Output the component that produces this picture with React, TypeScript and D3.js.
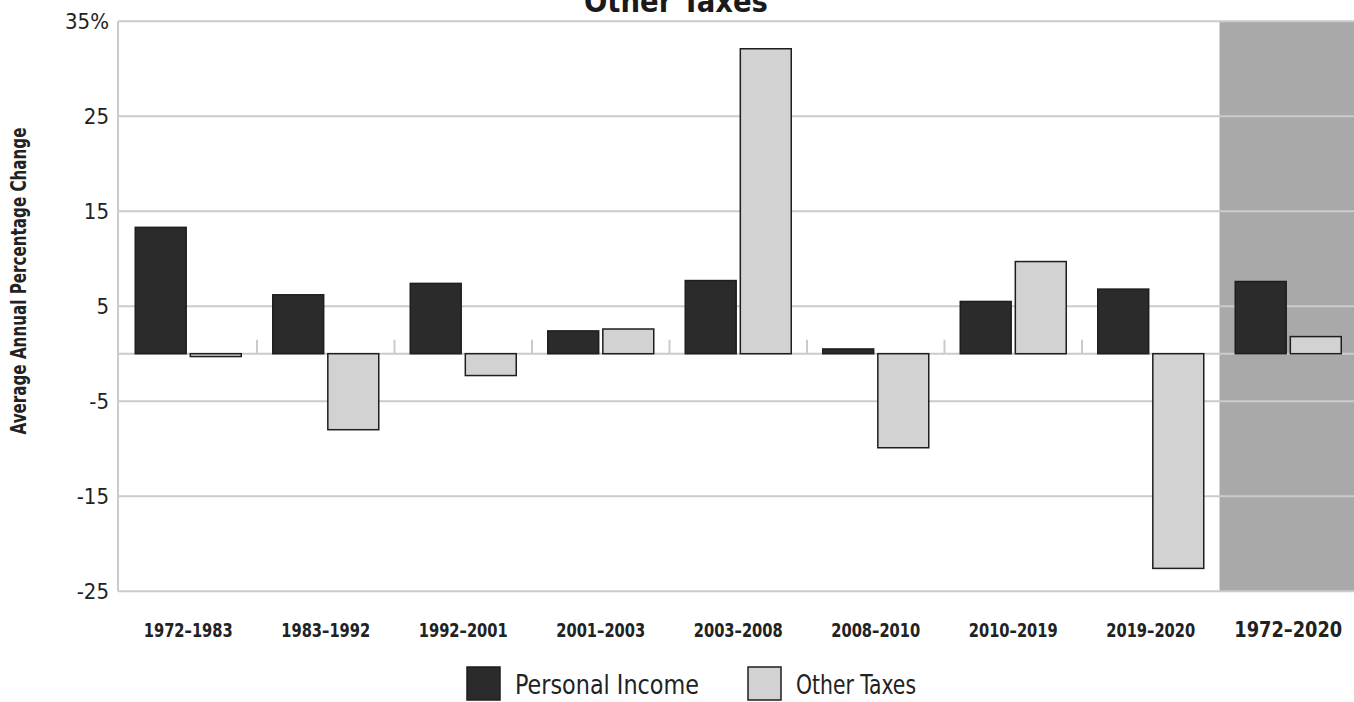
import React from "react";
import * as d3 from "d3";

const categories = ["1972–1983", "1983–1992", "1992–2001", "2001–2003", "2003–2008", "2008–2010", "2010–2019", "2019–2020", "1972–2020"];
const personalIncome = [13.3, 6.2, 7.4, 2.4, 7.7, 0.5, 5.5, 6.8, 7.6];
const otherTaxes = [-0.3, -8.0, -2.3, 2.6, 32.1, -9.9, 9.7, -22.6, 1.8];
const seriesNames = ["Personal Income", "Other Taxes"];
const yTicks = [35, 25, 15, 5, -5, -15, -25];
const yTickLabels = ["35%", "25", "15", "5", "-5", "-15", "-25"];
const title = "Other Taxes";
const yTitle = "Average Annual Percentage Change";

const W = 1354;
const H = 702;
const FONT = "'DejaVu Sans Condensed', 'DejaVu Sans', sans-serif";
const darkFill = "#2b2b2b";
const lightFill = "#d2d2d2";
const gridColor = "#cbcbcb";

export default function App() {
  const x = d3.scaleBand<string>().domain(categories).range([119.5, 1357]).padding(0);
  const y = d3.scaleLinear().domain([-25, 35]).range([591.2, 21.2]);
  const inner = d3.scaleBand<string>().domain(seriesNames).range([0, 106]).paddingInner(0.075);
  const bw = x.bandwidth();
  const pairOffset = (bw - 106) / 2;
  const lastCat = categories[categories.length - 1];
  const gridLines = [...yTicks, 0];
  const values = [personalIncome, otherTaxes];
  const fills = [darkFill, lightFill];
  const legendX = [467, 748];
  const legendLen = [184, 120];

  return (
    <svg width={W} height={H} style={{ position: "absolute", left: 0, top: 0, background: "#fff" }}>
      <rect x={0} y={0} width={W} height={H} fill="#fff" />
      <text x={676} y={12} textAnchor="middle" fontFamily={FONT} fontWeight="bold" fontSize={30} textLength={184} lengthAdjust="spacingAndGlyphs" fill="#1a1a1a">{title}</text>
      {/* shaded summary band */}
      <rect x={x(lastCat)!} y={y(35)} width={W - x(lastCat)!} height={y(-25) - y(35)} fill="#a9a9a9" />
      {/* gridlines */}
      {gridLines.map((t) => (
        <line key={"g" + t} x1={118} x2={W} y1={y(t)} y2={y(t)} stroke={gridColor} strokeWidth={2} />
      ))}
      <line x1={118} x2={118} y1={y(35)} y2={y(-25)} stroke={gridColor} strokeWidth={2} />
      {/* category separator ticks */}
      {categories.slice(1, -1).map((c) => (
        <line key={"s" + c} x1={x(c)!} x2={x(c)!} y1={y(0) - 14} y2={y(0)} stroke={gridColor} strokeWidth={2} />
      ))}
      {/* bars */}
      {categories.map((c, i) =>
        seriesNames.map((s, j) => {
          const v = values[j][i];
          const x0 = x(c)! + pairOffset + inner(s)!;
          const y0 = Math.min(y(v), y(0));
          const h = Math.max(Math.abs(y(v) - y(0)), 2);
          return (
            <rect key={c + s} x={x0} y={y0} width={inner.bandwidth()} height={h} fill={fills[j]} stroke="#1e1e1e" strokeWidth={1.5} />
          );
        })
      )}
      {/* y tick labels */}
      {yTicks.map((t, i) => (
        <text key={"yt" + t} x={109} y={y(t) + 8} textAnchor="end" fontFamily={FONT} fontSize={22} fill="#222">{yTickLabels[i]}</text>
      ))}
      <text transform={`translate(26,281) rotate(-90)`} textAnchor="middle" fontFamily={FONT} fontWeight="bold" fontSize={22} textLength={307} lengthAdjust="spacingAndGlyphs" fill="#222">{yTitle}</text>
      {/* x labels */}
      {categories.map((c, i) => {
        const last = i === categories.length - 1;
        return (
          <text key={"xl" + c} x={x(c)! + bw / 2} y={637} textAnchor="middle" fontFamily={FONT} fontWeight="bold" fontSize={last ? 21 : 19} textLength={last ? 108 : 89} lengthAdjust="spacingAndGlyphs" fill="#222">{c}</text>
        );
      })}
      {/* legend */}
      {seriesNames.map((s, j) => {
        const lx = legendX[j];
        return (
          <g key={"lg" + s}>
            <rect x={lx} y={667} width={33} height={33} fill={fills[j]} stroke="#1e1e1e" strokeWidth={1.5} />
            <text x={lx + 48} y={694} fontFamily={FONT} fontSize={27} textLength={legendLen[j]} lengthAdjust="spacingAndGlyphs" fill="#222">{s}</text>
          </g>
        );
      })}
    </svg>
  );
}
